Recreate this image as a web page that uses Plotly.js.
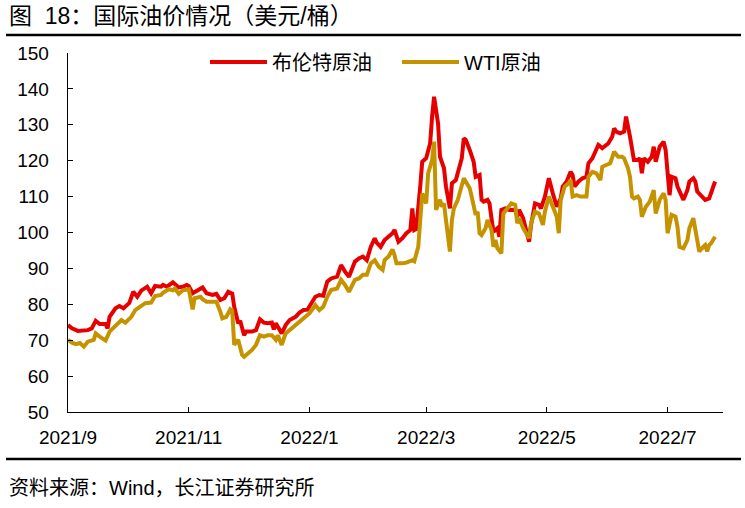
<!DOCTYPE html>
<html>
<head>
<meta charset="utf-8">
<script src="https://cdn.plot.ly/plotly-3.0.1.min.js"></script>
<style>
  html, body { margin: 0; padding: 0; background: #fff; }
  #chart { width: 745px; height: 508px; }
</style>
</head>
<body>
<div id="chart"></div>
<script>
// ---- Data ----
const brentDates = [
'2021-09-01','2021-09-03','2021-09-06','2021-09-08','2021-09-11','2021-09-13','2021-09-15','2021-09-17','2021-09-20','2021-09-21',
'2021-09-22','2021-09-25','2021-09-27','2021-09-29','2021-10-02','2021-10-04','2021-10-06','2021-10-08','2021-10-11','2021-10-13',
'2021-10-15','2021-10-18','2021-10-19','2021-10-21','2021-10-24','2021-10-27','2021-10-29','2021-10-31','2021-11-01','2021-11-03',
'2021-11-06','2021-11-08','2021-11-10','2021-11-13','2021-11-15','2021-11-17','2021-11-19','2021-11-21','2021-11-23','2021-11-24',
'2021-11-26','2021-11-27','2021-11-29','2021-11-30','2021-12-03','2021-12-05','2021-12-07','2021-12-09','2021-12-11','2021-12-13',
'2021-12-14','2021-12-15','2021-12-18','2021-12-20','2021-12-22','2021-12-25','2021-12-27','2021-12-29','2021-12-31','2022-01-01',
'2022-01-04','2022-01-06','2022-01-08','2022-01-10','2022-01-12','2022-01-15','2022-01-17','2022-01-19','2022-01-21','2022-01-24',
'2022-01-26','2022-01-28','2022-01-30','2022-02-01','2022-02-03','2022-02-04','2022-02-06','2022-02-08','2022-02-10','2022-02-12',
'2022-02-13','2022-02-15','2022-02-17','2022-02-19','2022-02-21','2022-02-22','2022-02-23','2022-02-24','2022-02-26','2022-02-27',
'2022-03-01','2022-03-03','2022-03-04','2022-03-05','2022-03-07','2022-03-08','2022-03-10','2022-03-11','2022-03-13','2022-03-14',
'2022-03-16','2022-03-18','2022-03-19','2022-03-20','2022-03-21','2022-03-23','2022-03-25','2022-03-26','2022-03-28','2022-03-29',
'2022-03-30','2022-04-01','2022-04-02','2022-04-03','2022-04-04','2022-04-06','2022-04-07','2022-04-08','2022-04-10','2022-04-12',
'2022-04-15','2022-04-16','2022-04-17','2022-04-19','2022-04-21','2022-04-22','2022-04-23','2022-04-25','2022-04-27','2022-04-28',
'2022-04-30','2022-05-02','2022-05-04','2022-05-06','2022-05-08','2022-05-09','2022-05-11','2022-05-13','2022-05-14','2022-05-15',
'2022-05-17','2022-05-19','2022-05-21','2022-05-22','2022-05-24','2022-05-25','2022-05-27','2022-05-29','2022-05-30','2022-06-01',
'2022-06-03','2022-06-04','2022-06-05','2022-06-07','2022-06-09','2022-06-10','2022-06-12','2022-06-13','2022-06-14','2022-06-16',
'2022-06-17','2022-06-18','2022-06-19','2022-06-21','2022-06-23','2022-06-24','2022-06-25','2022-06-27','2022-06-29','2022-06-30',
'2022-07-02','2022-07-03','2022-07-05','2022-07-06','2022-07-08','2022-07-09','2022-07-11','2022-07-12','2022-07-14','2022-07-15',
'2022-07-16','2022-07-18','2022-07-20','2022-07-22','2022-07-23','2022-07-25'
];
const brentValues = [
74.2,73.3,72.6,72.7,72.8,73.3,75.4,74.5,74.5,73.3,
76.5,78.9,79.5,78.9,80.4,83.5,82.1,83.8,84.9,83.1,
85.1,84.9,85.4,84.9,86.1,84.7,84.9,85.4,85.1,83.1,
84.2,84.7,83.1,82.6,82.9,81.2,81.7,83.5,83.0,79.3,
74.7,75.4,71.4,72.4,72.4,72.8,75.8,74.9,74.7,74.9,
73.0,74.7,71.9,74.2,75.6,76.5,77.7,78.4,78.5,79.3,
82.1,82.6,82.4,86.3,87.2,87.7,90.9,89.1,87.7,91.9,
92.8,93.3,92.3,96.0,98.4,97.2,96.0,97.9,98.8,99.8,
100.7,97.4,98.4,99.8,100.7,106.7,100.7,101.0,112.8,119.7,
120.7,124.8,132.3,137.8,130.4,121.1,117.9,112.8,106.7,113.7,
114.6,119.3,120.7,126.2,125.8,123.0,119.7,115.5,116.0,109.1,
108.6,109.1,108.1,104.0,100.2,101.2,98.8,106.3,106.7,106.3,
106.3,104.4,106.3,104.0,100.2,97.4,102.1,108.1,107.7,106.7,
110.0,115.1,110.9,107.2,109.5,112.8,114.2,116.9,116.0,112.8,
114.2,115.1,115.5,119.3,120.7,122.0,124.4,123.5,123.9,124.8,
126.7,129.0,128.1,127.6,128.1,132.3,126.7,123.0,120.2,120.2,
120.7,116.5,120.7,119.7,121.1,123.9,119.7,123.9,125.3,123.0,
110.4,115.5,115.1,112.8,110.0,109.1,111.8,114.2,115.1,114.2,
111.4,110.4,109.1,109.5,111.4,114.2
];

const wtiDates = [
'2021-09-01','2021-09-03','2021-09-05','2021-09-07','2021-09-09','2021-09-11','2021-09-14','2021-09-15','2021-09-17','2021-09-20',
'2021-09-22','2021-09-26','2021-09-28','2021-09-30','2021-10-03','2021-10-05','2021-10-07','2021-10-10','2021-10-13','2021-10-15',
'2021-10-18','2021-10-19','2021-10-22','2021-10-24','2021-10-25','2021-10-27','2021-10-29','2021-11-01','2021-11-03','2021-11-04',
'2021-11-07','2021-11-08','2021-11-10','2021-11-13','2021-11-15','2021-11-17','2021-11-18','2021-11-20','2021-11-22','2021-11-23',
'2021-11-24','2021-11-26','2021-11-27','2021-11-28','2021-11-29','2021-12-01','2021-12-03','2021-12-05','2021-12-07','2021-12-09',
'2021-12-11','2021-12-13','2021-12-15','2021-12-16','2021-12-18','2021-12-20','2021-12-22','2021-12-25','2021-12-27','2021-12-29',
'2021-12-31','2022-01-01','2022-01-04','2022-01-06','2022-01-08','2022-01-10','2022-01-12','2022-01-15','2022-01-17','2022-01-19',
'2022-01-21','2022-01-24','2022-01-26','2022-01-28','2022-01-30','2022-02-01','2022-02-03','2022-02-05','2022-02-07','2022-02-08',
'2022-02-10','2022-02-12','2022-02-13','2022-02-14','2022-02-17','2022-02-19','2022-02-22','2022-02-23','2022-02-25','2022-02-27',
'2022-03-01','2022-03-02','2022-03-04','2022-03-05','2022-03-06','2022-03-08','2022-03-09','2022-03-10','2022-03-11','2022-03-12',
'2022-03-13','2022-03-14','2022-03-15','2022-03-17','2022-03-18','2022-03-20','2022-03-21','2022-03-23','2022-03-24','2022-03-26',
'2022-03-27','2022-03-28','2022-03-29','2022-03-31','2022-04-01','2022-04-03','2022-04-04','2022-04-05','2022-04-06','2022-04-08',
'2022-04-09','2022-04-11','2022-04-13','2022-04-15','2022-04-16','2022-04-17','2022-04-19','2022-04-22','2022-04-23','2022-04-25',
'2022-04-27','2022-04-29','2022-04-30','2022-05-02','2022-05-04','2022-05-06','2022-05-07','2022-05-08','2022-05-10','2022-05-12',
'2022-05-13','2022-05-14','2022-05-16','2022-05-18','2022-05-21','2022-05-22','2022-05-24','2022-05-26','2022-05-28','2022-05-29',
'2022-05-31','2022-06-02','2022-06-04','2022-06-06','2022-06-08','2022-06-09','2022-06-11','2022-06-12','2022-06-13','2022-06-14',
'2022-06-16','2022-06-17','2022-06-18','2022-06-20','2022-06-22','2022-06-23','2022-06-24','2022-06-25','2022-06-27','2022-06-29',
'2022-06-30','2022-07-01','2022-07-03','2022-07-05','2022-07-06','2022-07-07','2022-07-09','2022-07-11','2022-07-12','2022-07-14',
'2022-07-15','2022-07-16','2022-07-17','2022-07-19','2022-07-20','2022-07-21','2022-07-22','2022-07-23','2022-07-25'
];
const wtiValues = [
70.1,69.3,68.9,69.2,68.2,69.6,70.1,71.9,71.0,69.9,
72.4,74.7,75.6,74.9,76.5,78.4,79.3,80.3,80.5,82.3,
82.6,83.2,84.2,83.9,84.4,82.9,83.9,84.2,78.6,81.7,
82.1,81.4,80.7,80.7,80.7,77.9,76.1,76.5,78.6,78.2,
68.7,70.1,67.7,65.9,65.4,66.4,67.3,68.7,71.4,71.0,
71.4,71.4,70.1,71.4,68.7,71.9,72.8,74.2,74.9,76.1,
76.7,77.5,79.8,78.4,79.3,82.1,84.0,84.4,86.8,85.4,
83.5,86.8,87.2,88.2,88.2,91.4,92.3,90.5,89.6,92.3,
93.3,95.3,93.7,91.4,91.4,91.6,92.3,92.0,96.0,110.9,
108.1,116.5,120.2,125.3,106.3,109.1,107.2,108.1,103.5,97.9,
94.7,103.5,106.7,109.1,111.4,115.1,114.2,112.3,110.0,104.9,
105.8,99.8,99.3,101.2,103.5,100.7,96.0,97.9,95.6,94.2,
105.3,106.7,108.1,107.7,102.6,104.0,101.2,98.4,102.6,105.8,
105.3,102.1,105.8,110.0,107.2,104.4,99.8,109.1,112.8,113.7,
114.6,110.0,110.4,110.0,110.0,115.5,116.9,116.5,114.6,118.3,
118.8,119.3,122.5,121.1,121.1,120.7,117.9,115.5,110.0,109.5,
110.0,109.1,104.4,107.2,108.6,110.0,111.8,105.3,109.1,110.9,
109.1,99.8,104.9,104.4,101.6,96.0,95.6,97.9,101.2,104.0,
100.7,97.0,94.7,96.0,96.5,94.7,96.5,97.0,98.8
];

const seriesNames = ['布伦特原油', 'WTI原油'];
const tickDates = ['2021-09-01','2021-11-01','2022-01-01','2022-03-01','2022-05-01','2022-07-01'];
const tickLabels = ['2021/9','2021/11','2022/1','2022/3','2022/5','2022/7'];
const yTicks = [50,60,70,80,90,100,110,120,130,140,150];

const FONT = '"Liberation Sans", Arial, "Noto Sans CJK SC", sans-serif';

const traces = [
  { x: brentDates, y: brentValues, name: seriesNames[0], type: 'scatter', mode: 'lines',
    line: { color: '#E60000', width: 4 } },
  { x: wtiDates, y: wtiValues, name: seriesNames[1], type: 'scatter', mode: 'lines',
    line: { color: '#C59300', width: 4 } }
];

const layout = {
  width: 745, height: 508,
  margin: { l: 68, r: 22, t: 53, b: 96 },
  paper_bgcolor: '#fff', plot_bgcolor: '#fff',
  font: { family: FONT, color: '#000', size: 19 },
  showlegend: true,
  title: {
    text: '图\u00a0\u00a018：国际油价情况（美元/桶）',
    xref: 'container', yref: 'container',
    x: 9 / 745, xanchor: 'left',
    y: 1 - 16 / 508, yanchor: 'middle',
    font: { family: FONT, size: 23, color: '#000' }
  },
  xaxis: {
    type: 'date',
    range: ['2021-09-01', '2022-07-29'],
    tickmode: 'array', tickvals: tickDates, ticktext: tickLabels,
    ticks: 'inside', ticklen: 5, tickwidth: 1, tickcolor: '#000',
    showline: true, linecolor: '#000', linewidth: 1.3,
    showgrid: false, zeroline: false,
    tickfont: { family: FONT, size: 19, color: '#000' },
    ticklabelstandoff: 8
  },
  yaxis: {
    range: [50, 150],
    tickmode: 'array', tickvals: yTicks,
    ticks: 'inside', ticklen: 5, tickwidth: 1, tickcolor: '#000',
    showline: true, linecolor: '#000', linewidth: 1.3,
    showgrid: false, zeroline: false,
    tickfont: { family: FONT, size: 19, color: '#000' },
    ticklabelstandoff: 14
  },
  legend: {
    orientation: 'h',
    x: (205 - 68) / 655, xanchor: 'left',
    y: (412 - 62) / 359, yanchor: 'middle',
    font: { family: FONT, size: 20, color: '#000' },
    bgcolor: 'rgba(0,0,0,0)',
    itemwidth: 57,
    entrywidth: 120, entrywidthmode: 'pixels'
  },
  shapes: [
    { type: 'line', xref: 'paper', yref: 'paper',
      x0: (6 - 68) / 655, x1: (741 - 68) / 655,
      y0: (412 - 35) / 359, y1: (412 - 35) / 359,
      line: { color: '#000', width: 2.6 } },
    { type: 'line', xref: 'paper', yref: 'paper',
      x0: (6 - 68) / 655, x1: (741 - 68) / 655,
      y0: (412 - 459) / 359, y1: (412 - 459) / 359,
      line: { color: '#000', width: 2.6 } }
  ],
  annotations: [
    { text: '资料来源：Wind，长江证券研究所', xref: 'paper', yref: 'paper',
      x: (7 - 68) / 655, xanchor: 'left',
      y: (412 - 488) / 359, yanchor: 'middle',
      showarrow: false, font: { family: FONT, size: 20, color: '#000' } }
  ]
};

Plotly.newPlot('chart', traces, layout, { displayModeBar: false, staticPlot: true });
</script>
</body>
</html>
